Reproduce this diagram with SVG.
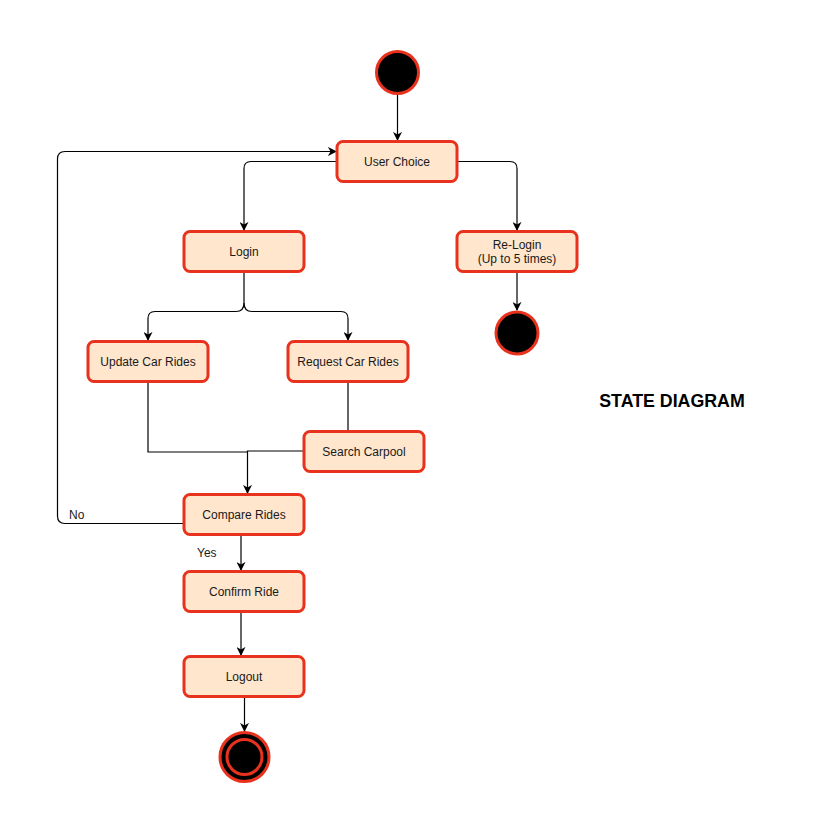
<svg xmlns="http://www.w3.org/2000/svg" width="838" height="833" viewBox="0 0 838 833">
<style>
.node rect{fill:#FFE6CC;stroke:#E8321E;stroke-width:3}
.node text,.lbl{font-family:"Liberation Sans",Arial,sans-serif;font-size:12px;fill:#1a1a1a;text-anchor:middle}
.lbl{text-anchor:start}
.edge{fill:none;stroke:#000;stroke-width:1.2}
.dot{fill:#000;stroke:#E8321E;stroke-width:3}
.title{font-family:"Liberation Sans",Arial,sans-serif;font-size:17.8px;font-weight:bold;fill:#000;text-anchor:middle}
</style>
<defs>
<marker id="arr" viewBox="0 0 10 10" refX="9" refY="5" markerWidth="9" markerHeight="9" markerUnits="userSpaceOnUse" orient="auto">
<path d="M0,0 L10,5 L0,10 L3,5 Z" fill="#000"/>
</marker>
</defs>
<rect width="838" height="833" fill="#fff"/>
<g id="connectors">
<path class="edge" d="M397.5,94 V140" marker-end="url(#arr)"/>
<path class="edge" d="M337,161.5 H251 Q244,161.5 244,168.5 V230" marker-end="url(#arr)"/>
<path class="edge" d="M457,161.5 H510 Q517,161.5 517,168.5 V230" marker-end="url(#arr)"/>
<path class="edge" d="M244,271 V303 Q244,311.5 236,311.5 H155 Q148,311.5 148,318.5 V340" marker-end="url(#arr)"/>
<path class="edge" d="M244,303 Q244,311.5 252,311.5 H341 Q348,311.5 348,318.5 V340" marker-end="url(#arr)"/>
<path class="edge" d="M517,271 V310" marker-end="url(#arr)"/>
<path class="edge" d="M348,381 V431"/>
<path class="edge" d="M148,381 V452 H247"/>
<path class="edge" d="M304,451 H247.5 V493" marker-end="url(#arr)"/>
<path class="edge" d="M184,523.5 H65 Q57.5,523.5 57.5,516 V159 Q57.5,151.5 65,151.5 H336" marker-end="url(#arr)"/>
<path class="edge" d="M241,534 V570" marker-end="url(#arr)"/>
<path class="edge" d="M241,611 V655" marker-end="url(#arr)"/>
<path class="edge" d="M244.5,696 V731" marker-end="url(#arr)"/>
<text class="lbl" x="69" y="519">No</text>
<text class="lbl" x="197" y="557">Yes</text>
</g>
<g id="start"><circle class="dot" cx="397.5" cy="72.5" r="21"/></g>
<g id="user-choice" class="node"><rect x="337" y="141.5" width="120" height="40" rx="6"/><text x="397" y="165.5">User Choice</text></g>
<g id="login" class="node"><rect x="184" y="231.5" width="120" height="40" rx="6"/><text x="244" y="255.5">Login</text></g>
<g id="relogin" class="node"><rect x="457" y="231.5" width="120" height="40" rx="6"/><text x="517" y="248.5">Re-Login</text><text x="517" y="262.5">(Up to 5 times)</text></g>
<g id="relogin-end"><circle class="dot" cx="517" cy="333" r="21"/></g>
<g id="update" class="node"><rect x="88" y="341.5" width="120" height="40" rx="6"/><text x="148" y="365.5">Update Car Rides</text></g>
<g id="request" class="node"><rect x="288" y="341.5" width="120" height="40" rx="6"/><text x="348" y="365.5">Request Car Rides</text></g>
<g id="search" class="node"><rect x="304" y="431.5" width="120" height="40" rx="6"/><text x="364" y="455.5">Search Carpool</text></g>
<g id="compare" class="node"><rect x="184" y="494.5" width="120" height="40" rx="6"/><text x="244" y="518.5">Compare Rides</text></g>
<g id="confirm" class="node"><rect x="184" y="571.5" width="120" height="40" rx="6"/><text x="244" y="595.5">Confirm Ride</text></g>
<g id="logout" class="node"><rect x="184" y="656.5" width="120" height="40" rx="6"/><text x="244" y="680.5">Logout</text></g>
<g id="end"><circle class="dot" cx="244.5" cy="757" r="24.5"/><circle class="dot" cx="244.5" cy="757" r="17.5"/></g>
<text class="title" x="672" y="407">STATE DIAGRAM</text>
</svg>
